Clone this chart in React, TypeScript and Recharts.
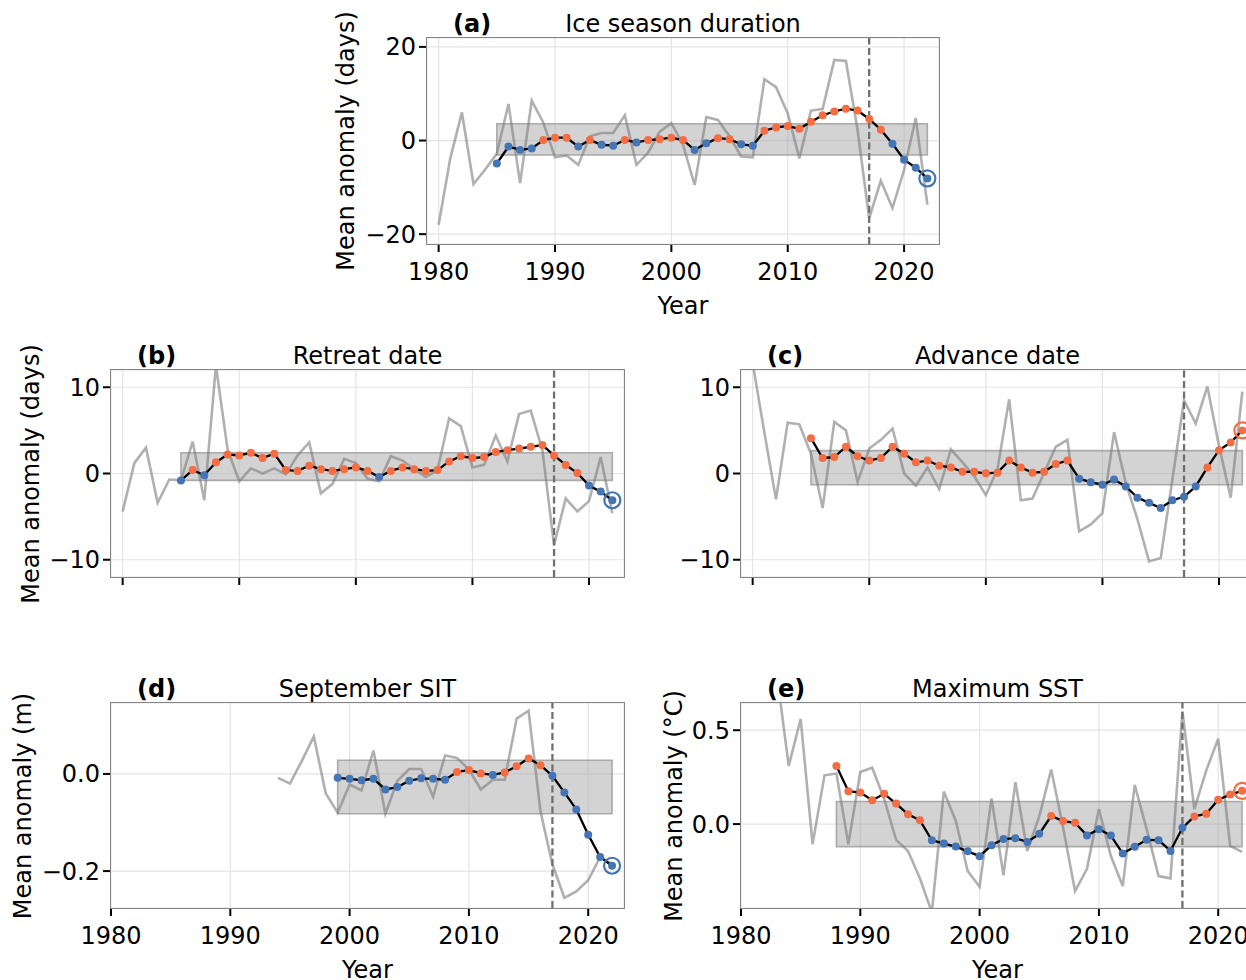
import React from 'react'
import {
  ComposedChart, Line, XAxis, YAxis, CartesianGrid,
  ReferenceArea, ReferenceLine,
} from 'recharts'

// years shared by every panel
const YEARS = [
  1980, 1981, 1982, 1983, 1984, 1985, 1986, 1987, 1988, 1989,
  1990, 1991, 1992, 1993, 1994, 1995, 1996, 1997, 1998, 1999,
  2000, 2001, 2002, 2003, 2004, 2005, 2006, 2007, 2008, 2009,
  2010, 2011, 2012, 2013, 2014, 2015, 2016, 2017, 2018, 2019,
  2020, 2021, 2022,
]
const X_TICKS = [1980, 1990, 2000, 2010, 2020]
const SHIFT_YEAR = 2017

// (a) ice season duration, days
const iceRaw = [
  -18.0, -3.8, 6.0, -9.3, -6.2, -2.8, 7.8, -9.1, 8.5, 3.8,
  -3.6, -3.2, -5.2, 0.9, 1.6, 1.6, 5.4, -5.2, -2.6, 1.9,
  3.7, -0.9, -9.5, 5.0, 4.4, 0.9, -3.4, -3.6, 13.1, 11.4,
  5.8, -3.8, 6.4, 6.7, 17.2, 17.0, 2.3, -16.6, -8.6, -14.4,
  -6.3, 4.8, -13.7,
]
const iceSmooth = [
  null, null, null, null, null, -4.9, -1.3, -2.0, -1.7, 0.1,
  0.6, 0.6, -1.3, 0.1, -0.9, -1.1, 0.1, -0.4, 0.1, 0.3,
  0.6, 0.1, -2.0, -0.6, 0.5, 0.3, -0.8, -1.1, 2.1, 2.8,
  3.1, 2.5, 4.0, 5.4, 6.2, 6.8, 6.4, 4.6, 2.3, -0.7,
  -4.1, -5.8, -8.1,
]
const iceBand = [1985, 2022, -3.1, 3.6]

// (b) retreat date, days
const retreatRaw = [
  -4.4, 1.2, 3.0, -3.4, -0.7, -0.8, 3.7, -3.1, 12.5, 2.8,
  -0.9, 0.6, 0.0, 0.6, -0.1, 2.1, 3.6, -2.3, -1.2, 1.7,
  1.2, -0.6, -0.9, 2.0, 1.5, 0.5, -0.4, 0.4, 6.4, 5.5,
  0.7, 1.0, 4.4, 1.4, 6.9, 7.3, 2.7, -8.3, -2.9, -4.4,
  -3.2, 1.9, -4.6,
]
const retreatSmooth = [
  null, null, null, null, null, -0.8, 0.4, -0.2, 1.3, 2.2,
  2.1, 2.4, 1.8, 2.3, 0.4, 0.3, 0.9, 0.5, 0.3, 0.5,
  0.7, 0.3, -0.4, 0.3, 0.7, 0.5, 0.3, 0.4, 1.4, 2.0,
  1.8, 1.9, 2.5, 2.7, 2.9, 3.1, 3.3, 2.1, 1.0, 0.05,
  -1.4, -2.1, -3.1,
]
const retreatBand = [1985, 2022, -0.8, 2.4]

// (c) advance date, days
const advanceRaw = [
  12.8, 4.8, -3.0, 5.9, 5.7, 2.3, -4.0, 6.0, 5.0, -1.0,
  2.9, 3.9, 5.2, 0.0, -1.4, 0.7, -1.8, 2.8, 1.3, -0.3,
  -2.5, 0.5, 8.6, -3.1, -2.9, 0.1, 3.1, 3.9, -6.7, -5.9,
  -4.6, 4.8, -1.1, -5.3, -10.2, -9.8, -0.7, 8.5, 5.8, 10.1,
  3.2, -2.8, 9.5,
]
const advanceSmooth = [
  null, null, null, null, null, 4.1, 1.8, 1.9, 3.1, 2.0,
  1.5, 1.8, 3.1, 2.3, 1.3, 1.5, 0.9, 0.7, 0.2, 0.2,
  0.02, 0.1, 1.5, 0.7, 0.1, 0.2, 1.1, 1.5, -0.6, -1.0,
  -1.3, -0.7, -1.5, -2.8, -3.4, -4.0, -3.1, -2.7, -1.5, 0.7,
  2.7, 3.6, 5.0,
]
const advanceBand = [1985, 2022, -1.3, 2.65]

// (d) September SIT, m
const sitRaw = [
  null, null, null, null, null, null, null, null, null, null,
  null, null, null, null, -0.008, -0.020, 0.027, 0.077, -0.040, -0.080,
  -0.022, -0.034, 0.048, -0.082, -0.014, 0.010, 0.010, -0.047, 0.038, 0.033,
  0.009, -0.032, -0.012, -0.012, 0.114, 0.130, -0.077, -0.186, -0.255, -0.242,
  -0.219, -0.171, -0.185,
]
const sitSmooth = [
  null, null, null, null, null, null, null, null, null, null,
  null, null, null, null, null, null, null, null, null, -0.008,
  -0.010, -0.013, -0.010, -0.032, -0.027, -0.014, -0.009, -0.010, -0.012, 0.004,
  0.008, 0.001, -0.002, 0.003, 0.016, 0.032, 0.018, -0.004, -0.038, -0.073,
  -0.125, -0.171, -0.189,
]
const sitBand = [1999, 2022, -0.082, 0.028]

// (e) maximum SST, degC
const sstRaw = [
  0.9, 0.9, 0.85, 0.8, 0.31, 0.56, -0.107, 0.26, 0.27, -0.107,
  0.277, 0.30, 0.134, -0.084, -0.143, -0.29, -0.47, 0.173, 0.018, -0.25,
  -0.334, 0.137, -0.273, 0.223, -0.143, 0.041, 0.291, -0.018, -0.357, -0.238,
  0.080, -0.170, -0.330, 0.209, -0.027, -0.277, -0.289, 0.60, 0.080, 0.286,
  0.455, -0.116, -0.148,
]
const sstSmooth = [
  null, null, null, null, null, null, null, null, 0.309, 0.175,
  0.168, 0.127, 0.161, 0.109, 0.052, 0.020, -0.086, -0.104, -0.120, -0.145,
  -0.171, -0.113, -0.080, -0.075, -0.095, -0.052, 0.043, 0.016, 0.007, -0.061,
  -0.027, -0.061, -0.157, -0.121, -0.084, -0.086, -0.143, -0.020, 0.041, 0.055,
  0.130, 0.157, 0.177,
]
const sstBand = [1988, 2022, -0.12, 0.12]

const ORANGE = '#f46d43'
const BLUE = '#4575b4'
const FONT = '"DejaVu Sans", sans-serif'
const TICK_FS = 24
const LABEL_FS = 24

const PAD_L = 130
const PAD_R = 14
const PAD_T = 14
const PAD_B = 54

type Rect = { left: number; top: number; w: number; h: number }

function makeRows(raw: (number | null)[], smooth: (number | null)[]) {
  return YEARS.map((year, i) => ({ year, raw: raw[i], smooth: smooth[i] }))
}

const fmt = (dec: number) => (v: number) =>
  (v < -1e-9 ? '\u2212' : '') + Math.abs(v).toFixed(dec)

function makeDot(lastYear: number) {
  return (p: any) => {
    const { cx, cy, payload, index } = p
    const v = payload ? payload.smooth : null
    if (v == null || cx == null || cy == null) return <g key={`d${index}`} />
    const c = v > 0 ? ORANGE : BLUE
    return (
      <g key={`d${index}`}>
        <circle cx={cx} cy={cy} r={4} fill={c} />
        {payload.year === lastYear && (
          <circle cx={cx} cy={cy} r={8} fill="none" stroke={c} strokeWidth={2.2} />
        )}
      </g>
    )
  }
}

const textBase: React.CSSProperties = {
  position: 'absolute', fontFamily: FONT, fontSize: LABEL_FS, color: '#000',
  whiteSpace: 'nowrap', lineHeight: 1,
}

function Panel(props: {
  rect: Rect
  raw: (number | null)[]
  smooth: (number | null)[]
  xDomain: number[]
  yDomain: number[]
  yTicks: number[]
  dec: number
  band: number[]
  xLabels: boolean
  tag: string
  title: string
  ylabel?: string
  ylabelOff?: number
}) {
  const { rect, raw, smooth, xDomain, yDomain, yTicks, dec, band, xLabels, tag, title, ylabel, ylabelOff } = props
  const rows = makeRows(raw, smooth)
  const lastYear = YEARS[YEARS.length - 1]
  const tickStyle = { fill: '#000', fontSize: TICK_FS, fontFamily: FONT }
  return (
    <>
      <div style={{ position: 'absolute', left: rect.left - PAD_L, top: rect.top - PAD_T }}>
        <ComposedChart
          width={rect.w + PAD_L + PAD_R}
          height={rect.h + PAD_T + PAD_B}
          data={rows}
          margin={{ top: PAD_T, right: PAD_R, bottom: 0, left: 0 }}
        >
          <CartesianGrid stroke="#e4e4e4" strokeWidth={1.2} />
          <XAxis
            type="number"
            dataKey="year"
            domain={xDomain}
            ticks={X_TICKS}
            allowDataOverflow
            height={PAD_B}
            axisLine={false}
            tickSize={8}
            tickMargin={11}
            tickLine={{ stroke: '#000', strokeWidth: 2 }}
            tick={tickStyle}
            tickFormatter={xLabels ? (v: number) => String(v) : () => ''}
          />
          <YAxis
            type="number"
            domain={yDomain}
            ticks={yTicks}
            allowDataOverflow
            width={PAD_L}
            axisLine={false}
            tickSize={8}
            tickMargin={3}
            tickLine={{ stroke: '#000', strokeWidth: 2 }}
            tick={tickStyle}
            tickFormatter={fmt(dec)}
          />
          <ReferenceArea
            x1={band[0]} x2={band[1]} y1={band[2]} y2={band[3]}
            fill="#a8a8a8" fillOpacity={0.5}
            stroke="#9a9a9a" strokeOpacity={0.8} strokeWidth={1.6}
            ifOverflow="visible"
          />
          <Line
            dataKey="raw"
            stroke="#808080"
            strokeOpacity={0.62}
            strokeWidth={2.6}
            dot={false}
            activeDot={false}
            isAnimationActive={false}
          />
          <ReferenceLine x={SHIFT_YEAR} stroke="#707070" strokeWidth={2.3} strokeDasharray="7 3.5" />
          <Line
            dataKey="smooth"
            stroke="#000"
            strokeWidth={2.3}
            dot={makeDot(lastYear)}
            activeDot={false}
            isAnimationActive={false}
          />
        </ComposedChart>
      </div>
      <div
        style={{
          position: 'absolute', left: rect.left - 1, top: rect.top - 1,
          width: rect.w + 2, height: rect.h + 2, boxSizing: 'border-box',
          border: '1.6px solid #858585', pointerEvents: 'none',
        }}
      />
      <div style={{ ...textBase, left: rect.left + 26, top: rect.top - 14, transform: 'translateY(-50%)', fontWeight: 'bold' }}>
        {tag}
      </div>
      <div style={{ ...textBase, left: rect.left + rect.w / 2, top: rect.top - 14, transform: 'translate(-50%,-50%)' }}>
        {title}
      </div>
      {ylabel && (
        <div
          style={{
            ...textBase, left: rect.left - (ylabelOff ?? 80), top: rect.top + rect.h / 2,
            transform: 'translate(-50%,-50%) rotate(-90deg)',
          }}
        >
          {ylabel}
        </div>
      )}
      {xLabels && (
        <div style={{ ...textBase, left: rect.left + rect.w / 2, top: rect.top + rect.h + 62, transform: 'translate(-50%,-50%)' }}>
          Year
        </div>
      )}
    </>
  )
}

export default function App() {
  return (
    <div style={{ position: 'absolute', left: 0, top: 0, width: 1246, height: 980, overflow: 'hidden', background: '#fff' }}>
      <Panel
        rect={{ left: 427, top: 38, w: 512, h: 206 }}
        raw={iceRaw} smooth={iceSmooth}
        xDomain={[1979, 2023]} yDomain={[-22.1, 21.9]} yTicks={[-20, 0, 20]} dec={0}
        band={iceBand} xLabels tag="(a)" title="Ice season duration"
        ylabel="Mean anomaly (days)" ylabelOff={81}
      />
      <Panel
        rect={{ left: 111, top: 370, w: 513, h: 207 }}
        raw={retreatRaw} smooth={retreatSmooth}
        xDomain={[1979, 2023]} yDomain={[-12, 12]} yTicks={[-10, 0, 10]} dec={0}
        band={retreatBand} xLabels={false} tag="(b)" title="Retreat date"
        ylabel="Mean anomaly (days)" ylabelOff={80}
      />
      <Panel
        rect={{ left: 741, top: 370, w: 513, h: 207 }}
        raw={advanceRaw} smooth={advanceSmooth}
        xDomain={[1979, 2023]} yDomain={[-12, 12]} yTicks={[-10, 0, 10]} dec={0}
        band={advanceBand} xLabels={false} tag="(c)" title="Advance date"
      />
      <Panel
        rect={{ left: 111, top: 703, w: 513, h: 205 }}
        raw={sitRaw} smooth={sitSmooth}
        xDomain={[1980, 2023]} yDomain={[-0.276, 0.146]} yTicks={[-0.2, 0]} dec={1}
        band={sitBand} xLabels tag="(d)" title="September SIT"
        ylabel="Mean anomaly (m)" ylabelOff={88}
      />
      <Panel
        rect={{ left: 741, top: 703, w: 513, h: 205 }}
        raw={sstRaw} smooth={sstSmooth}
        xDomain={[1980, 2023]} yDomain={[-0.447, 0.645]} yTicks={[0, 0.5]} dec={1}
        band={sstBand} xLabels tag="(e)" title="Maximum SST"
        ylabel="Mean anomaly (°C)" ylabelOff={67}
      />
    </div>
  )
}
